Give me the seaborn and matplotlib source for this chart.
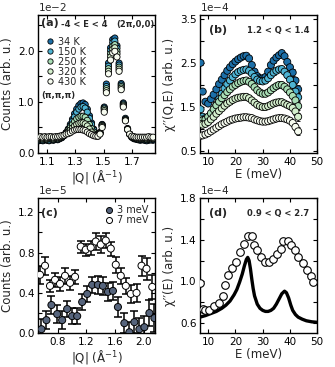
import numpy as np
import pandas as pd
import matplotlib
matplotlib.use('Agg')
import matplotlib.pyplot as plt
import seaborn as sns

# ---------------- data ----------------
temps = ['34 K', '150 K', '250 K', '320 K', '430 K']
temp_colors = ['#1c6fa8', '#4eb3d3', '#a8ddb5', '#d4efcd', '#f7fcf0']

# (a) elastic cut, -4 < E < 4, counts in units of 1e-2
q_a = [1.040, 1.055, 1.070, 1.085, 1.100, 1.115, 1.130, 1.145, 1.160, 1.175,
       1.190, 1.205, 1.220, 1.235, 1.250, 1.265, 1.280, 1.295, 1.310, 1.325,
       1.340, 1.355, 1.370, 1.385, 1.400, 1.415, 1.430, 1.445, 1.460, 1.475,
       1.490, 1.505, 1.520, 1.535, 1.550, 1.565, 1.580, 1.595, 1.610, 1.625,
       1.640, 1.655, 1.670, 1.685, 1.700, 1.715, 1.730, 1.745, 1.760, 1.775,
       1.790, 1.805, 1.820, 1.835, 1.850]
cnt_34 = [0.24, 0.25, 0.24, 0.26, 0.25, 0.24, 0.26, 0.25, 0.27, 0.26,
          0.28, 0.30, 0.34, 0.40, 0.47, 0.56, 0.66, 0.77, 0.86, 0.93,
          0.97, 0.98, 0.95, 0.86, 0.73, 0.59, 0.47, 0.39, 0.36, 0.40,
          0.56, 0.90, 1.35, 1.76, 2.06, 2.22, 2.25, 2.10, 1.76, 1.36,
          0.98, 0.68, 0.48, 0.37, 0.31, 0.28, 0.27, 0.26, 0.25, 0.26,
          0.25, 0.24, 0.25, 0.26, 0.25]
cnt_150 = [0.25, 0.26, 0.25, 0.27, 0.26, 0.25, 0.27, 0.26, 0.28, 0.27,
           0.29, 0.31, 0.34, 0.39, 0.45, 0.53, 0.62, 0.71, 0.80, 0.86,
           0.90, 0.91, 0.88, 0.80, 0.68, 0.56, 0.45, 0.38, 0.35, 0.40,
           0.55, 0.88, 1.30, 1.70, 2.00, 2.16, 2.19, 2.05, 1.72, 1.33,
           0.96, 0.66, 0.47, 0.37, 0.31, 0.29, 0.28, 0.27, 0.27, 0.27,
           0.26, 0.26, 0.27, 0.26, 0.27]
cnt_250 = [0.27, 0.28, 0.27, 0.28, 0.27, 0.28, 0.28, 0.27, 0.29, 0.28,
           0.30, 0.32, 0.35, 0.39, 0.44, 0.50, 0.56, 0.62, 0.67, 0.70,
           0.72, 0.72, 0.70, 0.64, 0.56, 0.48, 0.41, 0.36, 0.34, 0.39,
           0.54, 0.86, 1.26, 1.65, 1.94, 2.09, 2.12, 1.99, 1.68, 1.30,
           0.94, 0.65, 0.47, 0.37, 0.32, 0.30, 0.29, 0.28, 0.28, 0.28,
           0.28, 0.27, 0.28, 0.28, 0.28]
cnt_320 = [0.29, 0.30, 0.29, 0.30, 0.29, 0.30, 0.30, 0.29, 0.30, 0.30,
           0.31, 0.33, 0.35, 0.38, 0.41, 0.45, 0.49, 0.53, 0.56, 0.58,
           0.59, 0.59, 0.57, 0.53, 0.47, 0.41, 0.37, 0.34, 0.33, 0.38,
           0.52, 0.83, 1.22, 1.60, 1.88, 2.03, 2.06, 1.94, 1.64, 1.27,
           0.92, 0.64, 0.46, 0.37, 0.33, 0.31, 0.30, 0.30, 0.29, 0.30,
           0.30, 0.29, 0.30, 0.30, 0.29]
cnt_430 = [0.31, 0.32, 0.31, 0.32, 0.31, 0.32, 0.32, 0.31, 0.32, 0.32,
           0.33, 0.34, 0.35, 0.37, 0.38, 0.40, 0.43, 0.45, 0.46, 0.46,
           0.46, 0.45, 0.44, 0.41, 0.38, 0.36, 0.34, 0.33, 0.33, 0.37,
           0.50, 0.80, 1.18, 1.55, 1.82, 1.96, 1.99, 1.88, 1.60, 1.24,
           0.90, 0.63, 0.46, 0.37, 0.33, 0.32, 0.31, 0.31, 0.31, 0.31,
           0.31, 0.31, 0.32, 0.31, 0.31]

# (b) chi''(Q,E), 1.2 < Q < 1.4, units of 1e-4
e_b = [7.2, 8, 9, 10, 11, 12, 13, 14, 15, 16, 17, 18, 19, 20, 21, 22, 23, 24, 25,
       26, 27, 28, 29, 30, 31, 32, 33, 34, 35, 36, 37, 38, 39, 40, 41, 42, 43]
chi_34 = [2.50, 1.85, 1.62, 1.58, 1.68, 1.78, 1.90, 2.02, 2.12, 2.22, 2.32, 2.40,
          2.47, 2.53, 2.58, 2.62, 2.65, 2.66, 2.60, 2.45, 2.30, 2.20, 2.15, 2.15,
          2.18, 2.30, 2.45, 2.55, 2.62, 2.67, 2.72, 2.65, 2.52, 2.40, 2.28, 2.10, 1.90]
chi_150 = [1.45, 1.28, 1.25, 1.27, 1.32, 1.42, 1.55, 1.68, 1.80, 1.92, 2.02, 2.10,
           2.18, 2.24, 2.29, 2.32, 2.34, 2.35, 2.32, 2.26, 2.18, 2.12, 2.09, 2.08,
           2.10, 2.15, 2.22, 2.28, 2.32, 2.35, 2.36, 2.30, 2.22, 2.12, 2.00, 1.85, 1.72]
chi_250 = [1.22, 1.20, 1.22, 1.28, 1.36, 1.45, 1.54, 1.62, 1.70, 1.77, 1.84, 1.90,
           1.96, 2.00, 2.04, 2.07, 2.09, 2.10, 2.07, 2.02, 1.95, 1.88, 1.83, 1.80,
           1.80, 1.83, 1.88, 1.93, 1.97, 2.00, 2.00, 1.96, 1.90, 1.83, 1.75, 1.65, 1.52]
chi_320 = [1.12, 1.10, 1.12, 1.16, 1.22, 1.28, 1.35, 1.41, 1.47, 1.53, 1.58, 1.62,
           1.66, 1.69, 1.71, 1.72, 1.73, 1.73, 1.70, 1.65, 1.60, 1.55, 1.52, 1.50,
           1.50, 1.52, 1.55, 1.58, 1.60, 1.61, 1.61, 1.58, 1.55, 1.52, 1.48, 1.40, 1.28]
chi_430 = [0.85, 0.86, 0.88, 0.91, 0.95, 0.99, 1.03, 1.07, 1.11, 1.14, 1.17, 1.20,
           1.22, 1.24, 1.25, 1.26, 1.27, 1.27, 1.26, 1.25, 1.22, 1.20, 1.18, 1.17,
           1.17, 1.18, 1.20, 1.22, 1.24, 1.25, 1.25, 1.24, 1.22, 1.19, 1.14, 1.05, 0.95]
err_b = [0.04, 0.04, 0.04, 0.04, 0.04, 0.04, 0.04, 0.04, 0.04, 0.04, 0.04, 0.04,
         0.04, 0.04, 0.04, 0.04, 0.04, 0.04, 0.04, 0.04, 0.04, 0.04, 0.04, 0.04,
         0.04, 0.04, 0.04, 0.05, 0.05, 0.05, 0.05, 0.05, 0.06, 0.06, 0.07, 0.08, 0.09]

# (c) constant-energy cuts vs |Q|, units of 1e-5
q_7 = [0.55, 0.62, 0.69, 0.76, 0.83, 0.90, 0.97, 1.04, 1.12, 1.19, 1.26, 1.33,
       1.40, 1.47, 1.54, 1.61, 1.68, 1.75, 1.82, 1.90, 1.97, 2.04, 2.12]
cnt_7 = [0.58, 0.67, 0.47, 0.53, 0.49, 0.57, 0.50, 0.56, 0.86, 0.83, 0.85, 0.91,
         0.88, 0.92, 0.84, 0.68, 0.57, 0.47, 0.39, 0.40, 0.67, 0.64, 0.46]
err_7 = [0.09, 0.09, 0.06, 0.07, 0.07, 0.08, 0.07, 0.07, 0.06, 0.06, 0.07, 0.08,
         0.08, 0.07, 0.07, 0.08, 0.08, 0.08, 0.09, 0.09, 0.10, 0.11, 0.12]
q_3 = [0.57, 0.64, 0.71, 0.79, 0.86, 0.93, 1.00, 1.07, 1.14, 1.21, 1.28, 1.36,
       1.43, 1.50, 1.57, 1.64, 1.73, 1.80, 1.87, 1.94, 2.01, 2.08, 2.15]
cnt_3 = [0.04, 0.13, 0.28, 0.19, 0.13, 0.24, 0.17, 0.17, 0.31, 0.39, 0.48, 0.48,
         0.47, 0.41, 0.42, 0.26, 0.10, 0.01, 0.11, 0.04, 0.06, 0.20, 0.15]
err_3 = [0.10, 0.09, 0.09, 0.09, 0.09, 0.08, 0.08, 0.08, 0.08, 0.08, 0.08, 0.09,
         0.09, 0.09, 0.09, 0.10, 0.10, 0.10, 0.11, 0.11, 0.11, 0.13, 0.14]

# (d) chi''(E), 0.9 < Q < 2.7, units of 1e-4
e_d = [7.0, 8.0, 8.8, 10.4, 12.2, 13.8, 15.4, 16.2, 17.2, 18.7, 20.3, 21.8, 23.0,
       24.5, 26.1, 26.7, 27.9, 29.2, 30.7, 32.2, 33.8, 35.3, 36.8, 37.5, 39.3,
       40.5, 41.9, 43.1, 44.6, 46.2, 47.7, 48.6]
chi_d = [0.98, 0.73, 0.72, 0.72, 0.76, 0.79, 0.86, 0.96, 1.06, 1.13, 1.19, 1.28, 1.36,
         1.44, 1.44, 1.35, 1.30, 1.23, 1.19, 1.19, 1.21, 1.26, 1.31, 1.39, 1.39,
         1.35, 1.30, 1.23, 1.18, 1.11, 1.05, 0.99]
err_d = [0.02] * len(e_d)
e_fit = [7, 9, 11, 13, 15, 16.5, 18, 19.5, 20.5, 21.5, 22.5, 23.3, 24, 24.5, 25,
         25.5, 26, 26.5, 27, 28, 29, 30, 31, 32, 33, 34, 35, 36, 37, 38, 38.7,
         39.5, 40.3, 41, 42, 43, 44.5, 46, 48, 50]
chi_fit = [0.655, 0.67, 0.69, 0.71, 0.74, 0.77, 0.81, 0.87, 0.92, 0.99, 1.07, 1.15,
           1.21, 1.23, 1.20, 1.12, 1.02, 0.93, 0.86, 0.78, 0.74, 0.72, 0.71, 0.71,
           0.72, 0.74, 0.78, 0.83, 0.88, 0.905, 0.89, 0.84, 0.77, 0.72, 0.68, 0.655,
           0.635, 0.62, 0.61, 0.605]

# ---------------- style ----------------
sns.set_style('ticks')
plt.rcParams.update({
    'font.family': ['DejaVu Sans'],
    'font.size': 7,
    'axes.edgecolor': 'black',
    'axes.linewidth': 1.0,
    'xtick.direction': 'in',
    'ytick.direction': 'in',
    'xtick.top': True,
    'ytick.right': True,
    'xtick.major.size': 3,
    'ytick.major.size': 3,
    'xtick.major.pad': 2.5,
    'ytick.major.pad': 2.5,
    'xtick.labelsize': 7.5,
    'ytick.labelsize': 7.5,
    'axes.labelsize': 8.5,
    'xtick.color': 'black',
    'ytick.color': 'black',
})

fig = plt.figure(figsize=(3.35, 3.67), dpi=100)
ax_a = fig.add_axes([0.113, 0.583, 0.350, 0.376])
ax_b = fig.add_axes([0.597, 0.583, 0.350, 0.376])
ax_c = fig.add_axes([0.113, 0.092, 0.350, 0.368])
ax_d = fig.add_axes([0.597, 0.092, 0.350, 0.368])

bold = dict(fontweight='bold')


def sci_label(ax, txt):
    ax.text(0.0, 1.015, txt, transform=ax.transAxes, ha='left', va='bottom', fontsize=7.5)


# ---- (a)
df_a = pd.DataFrame({
    'Q': q_a * 5,
    'I': cnt_34 + cnt_150 + cnt_250 + cnt_320 + cnt_430,
    'T': np.repeat(temps, len(q_a)),
})
sns.scatterplot(data=df_a, x='Q', y='I', hue='T', hue_order=temps,
                palette=temp_colors, s=20, edgecolor='black', linewidth=0.6,
                ax=ax_a, zorder=3)
h, l = ax_a.get_legend_handles_labels()
for hh in h:
    hh.set_markeredgecolor('black')
    hh.set_markeredgewidth(0.6)
ax_a.legend(h, l, loc='upper left', bbox_to_anchor=(0.0, 0.885), frameon=False,
            handletextpad=0.2, labelspacing=0.0, borderaxespad=0.2,
            handlelength=1.3, fontsize=7, markerscale=0.85)
ax_a.set_xlim(1.035, 1.865)
ax_a.set_ylim(0, 2.7)
ax_a.set_xticks([1.1, 1.3, 1.5, 1.7])
ax_a.set_xticklabels(['1.1', '1.3', '1.5', '1.7'])
ax_a.set_yticks([0, 0.5, 1.0, 1.5, 2.0, 2.5])
ax_a.set_yticklabels(['0.0', '', '1.0', '', '2.0', ''])
ax_a.set_xlabel('|Q| (Å$^{-1}$)', labelpad=1)
ax_a.set_ylabel('Counts (arb. u.)', labelpad=3)
ax_a.text(0.03, 0.975, '(a)', transform=ax_a.transAxes, ha='left', va='top', fontsize=8, **bold)
ax_a.text(0.20, 0.965, '-4 < E < 4', transform=ax_a.transAxes, ha='left', va='top', fontsize=6, **bold)
ax_a.text(0.995, 0.965, '(2π,0,0)', transform=ax_a.transAxes, ha='right', va='top', fontsize=6, **bold)
ax_a.text(0.03, 0.385, '(π,π,π)', transform=ax_a.transAxes, ha='left', va='bottom', fontsize=6, **bold)
sci_label(ax_a, '1e$-$2')

# ---- (b)
df_b = pd.DataFrame({
    'E': e_b * 5,
    'chi': chi_34 + chi_150 + chi_250 + chi_320 + chi_430,
    'T': np.repeat(temps, len(e_b)),
})
for vals in [chi_34, chi_150, chi_250, chi_320, chi_430]:
    ax_b.errorbar(e_b, vals, yerr=err_b, fmt='none', ecolor='black',
                  elinewidth=0.6, capsize=1.2, capthick=0.6, zorder=2)
sns.scatterplot(data=df_b, x='E', y='chi', hue='T', hue_order=temps,
                palette=temp_colors, s=26, edgecolor='black', linewidth=0.6,
                ax=ax_b, legend=False, zorder=3)
ax_b.set_xlim(7, 50)
ax_b.set_ylim(0.46, 3.58)
ax_b.set_xticks([10, 20, 30, 40, 50])
ax_b.set_yticks([0.5, 1.0, 1.5, 2.0, 2.5, 3.0, 3.5])
ax_b.set_yticklabels(['0.5', '', '1.5', '', '2.5', '', '3.5'])
ax_b.set_xlabel('E (meV)', labelpad=1)
ax_b.set_ylabel('χ′′(Q,E) (arb. u.)', labelpad=3)
ax_b.text(0.08, 0.93, '(b)', transform=ax_b.transAxes, ha='left', va='top', fontsize=8, **bold)
ax_b.text(0.93, 0.92, '1.2 < Q < 1.4', transform=ax_b.transAxes, ha='right', va='top', fontsize=6, **bold)
sci_label(ax_b, '1e$-$4')

# ---- (c)
ax_c.errorbar(q_7, cnt_7, yerr=err_7, fmt='none', ecolor='black',
              elinewidth=1.1, capsize=3, capthick=1.1, zorder=2)
ax_c.errorbar(q_3, cnt_3, yerr=err_3, fmt='none', ecolor='black',
              elinewidth=1.1, capsize=3, capthick=1.1, zorder=2)
df_c = pd.DataFrame({
    'Q': q_3 + q_7,
    'I': cnt_3 + cnt_7,
    'cut': ['3 meV'] * len(q_3) + ['7 meV'] * len(q_7),
})
sns.scatterplot(data=df_c, x='Q', y='I', hue='cut',
                palette={'3 meV': '#56647c', '7 meV': 'white'}, s=26,
                edgecolor='black', linewidth=0.7, ax=ax_c, zorder=3)
h, l = ax_c.get_legend_handles_labels()
for hh in h:
    hh.set_markeredgecolor('black')
    hh.set_markeredgewidth(0.7)
ax_c.legend(h, l, loc='upper right', frameon=False, handletextpad=0.2,
            labelspacing=0.02, borderaxespad=0.3, handlelength=1.3,
            fontsize=7, markerscale=0.85)
ax_c.set_xlim(0.52, 2.16)
ax_c.set_ylim(0, 1.34)
ax_c.set_xticks([0.8, 1.2, 1.6, 2.0])
ax_c.set_yticks([0, 0.2, 0.4, 0.6, 0.8, 1.0, 1.2])
ax_c.set_yticklabels(['0.0', '', '0.4', '', '0.8', '', '1.2'])
ax_c.set_xlabel('|Q| (Å$^{-1}$)', labelpad=1)
ax_c.set_ylabel('Counts (arb. u.)', labelpad=3)
ax_c.text(0.03, 0.93, '(c)', transform=ax_c.transAxes, ha='left', va='top', fontsize=8, **bold)
sci_label(ax_c, '1e$-$5')

# ---- (d)
sns.lineplot(x=e_fit, y=chi_fit, color='black', linewidth=2.4, ax=ax_d, zorder=2)
ax_d.errorbar(e_d, chi_d, yerr=err_d, fmt='none', ecolor='black',
              elinewidth=0.8, capsize=1.5, capthick=0.8, zorder=3)
sns.scatterplot(x=e_d, y=chi_d, color='white', s=30, edgecolor='black',
                linewidth=0.8, ax=ax_d, zorder=4)
ax_d.set_xlim(7, 50)
ax_d.set_ylim(0.5, 1.8)
ax_d.set_xticks([10, 20, 30, 40, 50])
ax_d.set_yticks([0.6, 0.8, 1.0, 1.2, 1.4, 1.6, 1.8])
ax_d.set_yticklabels(['0.6', '', '1.0', '', '1.4', '', '1.8'])
ax_d.set_xlabel('E (meV)', labelpad=1)
ax_d.set_ylabel('χ′′(E) (arb. u.)', labelpad=3)
ax_d.text(0.08, 0.93, '(d)', transform=ax_d.transAxes, ha='left', va='top', fontsize=8, **bold)
ax_d.text(0.93, 0.92, '0.9 < Q < 2.7', transform=ax_d.transAxes, ha='right', va='top', fontsize=6, **bold)
sci_label(ax_d, '1e$-$4')

fig.savefig('out.png', dpi=100, facecolor='white')
